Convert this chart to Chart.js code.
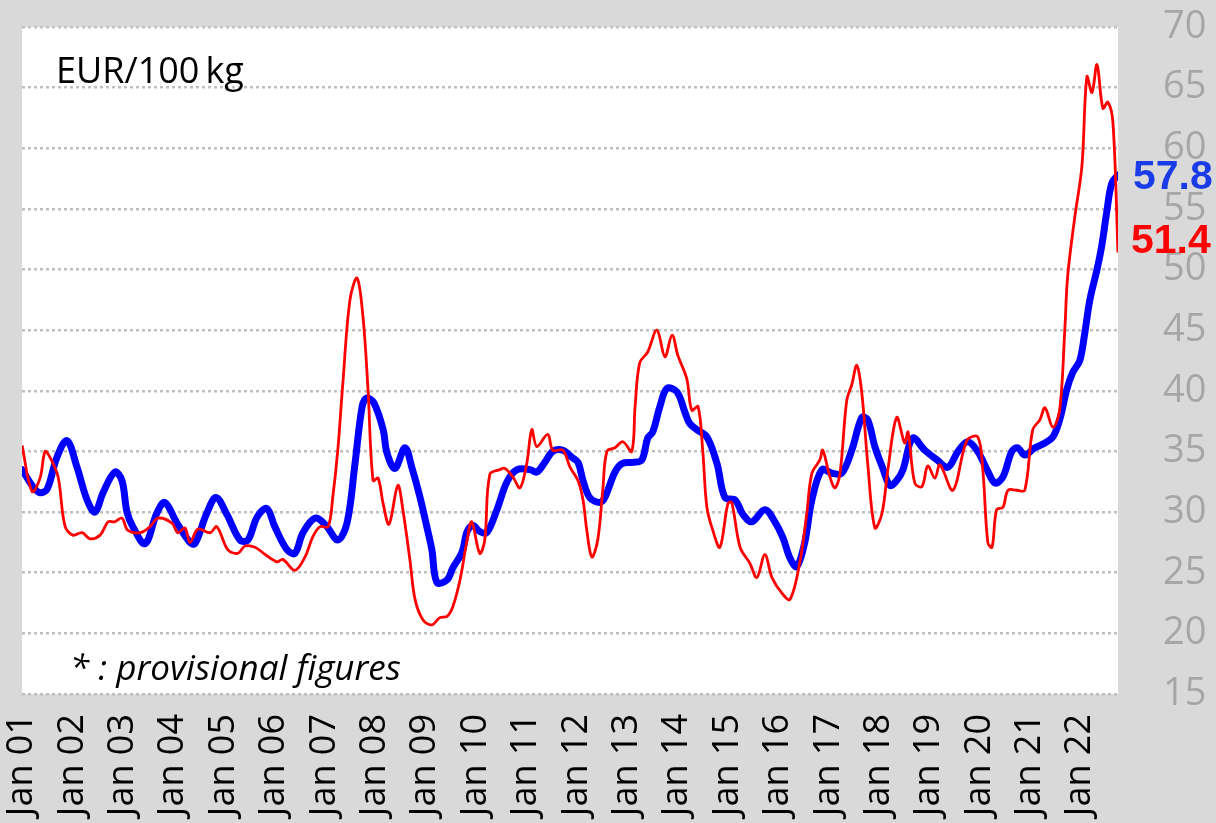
<!DOCTYPE html>
<html>
<head>
<meta charset="utf-8">
<script src="https://cdn.jsdelivr.net/npm/chart.js@4/dist/chart.umd.min.js"></script>
<style>
  html, body { margin: 0; padding: 0; background: #d9d9d9; }
  #wrap { width: 1216px; height: 823px; position: relative; }
</style>
</head>
<body>
<div id="wrap"><canvas id="c" width="1216" height="823"></canvas></div>
<script>
// Tick labels (one per January, months counted from Jan 2001)
const yearLabels = ['Jan 01','Jan 02','Jan 03','Jan 04','Jan 05','Jan 06','Jan 07','Jan 08','Jan 09','Jan 10','Jan 11',
  'Jan 12','Jan 13','Jan 14','Jan 15','Jan 16','Jan 17','Jan 18','Jan 19','Jan 20','Jan 21','Jan 22'];
const lastMonth = 261; // Oct 2022

// Blue series (thick): months since Jan 2001 and EUR/100 kg
const blueMonths = [0,2.6,4.3,6,8.3,10.7,13.1,15.5,17.4,19.3,22.1,23.8,25,26.4,29.3,32.1,34,36.9,40,41.2,44,46.2,48.8,51.9,53.8,56,58.3,60.2,63.1,65,66.9,69.8,72.4,75.2,77.4,79.3,81,82.1,83.8,86,86.9,88.8,91.2,92.9,94.8,96.4,97.6,98.8,101.2,102.6,104.8,106,107.4,109,110.7,113.1,115.5,117.9,121,122.6,124.5,126.4,128.8,131,132.4,133.6,135.2,137.6,138.8,141.2,142.9,145.5,147.6,149,150.2,151.9,153.6,156,157.9,159,160.7,163.1,165.5,167.4,169.8,171.7,173.8,176.9,179.3,181.2,182.9,184.5,186.4,188.1,190.5,192.9,195.2,197.6,200,201.4,203.1,205,206.7,208.3,209.8,212.1,215,217.9,220.5,222.9,225.2,227.6,229.8,231.7,233.6,235.7,237.1,238.8,241.2,243.6,245.5,247.1,248.8,250.2,251.9,253.1,254.3,256,257.1,258.3,259.5,261];
const blueValues = [33.5,32.1,31.6,31.9,34.5,35.9,33.7,31.0,30.0,31.6,33.3,32.6,30.0,28.8,27.4,29.9,30.8,29.1,27.5,27.4,29.9,31.2,29.8,27.7,27.7,29.6,30.3,28.8,26.9,26.6,28.3,29.5,28.9,27.7,29.1,34.0,38.7,39.4,39.0,36.8,34.9,33.6,35.3,33.6,31.2,28.8,26.9,24.2,24.4,25.4,26.7,28.4,28.9,28.4,28.3,30.2,32.5,33.5,33.5,33.3,34.1,35.0,35.1,34.5,34.1,32.6,31.2,30.8,31.2,33.3,34.0,34.1,34.3,36.1,36.6,38.7,40.2,39.9,38.2,37.3,36.8,36.2,34.0,31.2,31.0,29.8,29.2,30.2,29.2,27.9,26.2,25.5,27.5,31.0,33.5,33.2,33.2,35.1,37.8,37.6,35.4,33.6,32.2,32.6,33.5,36.1,35.1,34.3,33.7,35.0,35.8,35.0,33.5,32.4,32.9,35.0,35.3,34.7,35.3,35.7,36.2,37.6,40.1,41.5,42.5,44.8,47.5,50.0,51.9,54.7,57.1,57.8];

// Red series (thin)
const redMonths = [0,2.4,4.3,5.5,6.7,8.6,10.2,12.1,14.3,16.2,18.6,20.5,22.1,23.8,25.2,28.1,30.5,32.4,35.7,37.1,38.8,40,41.9,44.8,46.4,49,51.4,53.1,55.5,57.9,60.7,62.1,65,67.4,69.3,71,72.9,74,75.2,76.4,78.1,79.8,81.2,82.4,83.6,84.8,86,87.4,89.5,90.7,92.4,93.6,95.5,97.6,99.5,101.2,102.6,104.3,106,107.1,109,110.2,111.4,113.8,115,116.9,118.6,120.2,121.4,122.6,125.2,126.4,128.8,130.5,132.4,133.6,134.5,135.7,137.1,138.3,139.3,141.2,143.1,145.2,146,147.1,149,151.2,153.1,154.8,156.2,158.3,159.5,161,162.1,163.1,164.5,166.2,168.1,169,171,173.3,175,176.9,178.6,181,182.9,185.2,186.9,188.1,190,190.7,192.4,193.6,194.8,196.4,197.6,198.8,200,201.4,203.1,204.8,206.2,208.3,210.2,211,212.6,214.3,215.7,217.4,218.6,221.7,225,227.6,228.8,230,231,232.1,233.6,234.8,236.9,238.8,240.7,242.4,243.6,245.5,247.1,248.3,249,250.7,252.4,253.6,254.8,256,257.4,258.6,259.8,261];
const redValues = [35.5,31.7,32.8,35.0,34.5,32.9,28.9,28.1,28.3,27.8,28.1,29.2,29.2,29.5,28.5,28.3,28.8,29.5,29.1,28.3,28.7,27.5,28.6,28.3,28.8,26.9,26.6,27.2,27.1,26.5,25.9,26.1,25.2,26.3,28.0,28.8,28.8,31.2,35.1,40.6,47.5,49.3,46.1,40.1,32.6,32.8,30.7,29.0,32.2,30.2,26.0,22.8,21.1,20.7,21.3,21.4,22.2,24.4,27.7,29.2,26.6,27.7,33.1,33.5,33.6,32.9,32.0,34.0,36.8,35.4,36.4,35.1,35.1,33.7,32.6,31.0,28.5,26.3,27.7,31.8,35.0,35.3,35.8,35.0,38.7,42.3,43.2,45.0,42.8,44.6,42.9,41.0,38.4,38.7,35.1,30.4,28.5,27.1,30.7,30.8,27.1,25.8,24.6,26.5,24.6,23.3,22.8,25.8,29.9,33.2,34.3,35.1,32.9,32.0,33.2,39.2,40.5,42.1,39.8,34.0,28.7,29.9,33.5,37.8,35.7,36.6,32.4,32.1,33.8,32.8,33.9,31.8,35.9,36.2,33.5,27.5,27.1,30.2,30.4,31.8,31.8,31.8,36.8,37.6,38.6,37.0,38.4,44.8,49.4,54.3,58.5,65.9,64.6,66.9,63.3,63.8,62.1,51.4];

const yTicks = [15,20,25,30,35,40,45,50,55,60,65,70];

const toPts = (xs, ys) => xs.map((x, i) => ({x: x, y: ys[i]}));

const bgPlugin = {
  id: 'bg',
  beforeDraw(chart) {
    const {ctx, chartArea: a} = chart;
    ctx.save();
    ctx.fillStyle = '#d9d9d9';
    ctx.fillRect(0, 0, chart.width, chart.height);
    ctx.fillStyle = '#ffffff';
    ctx.fillRect(a.left, a.top, a.right - a.left, a.bottom - a.top);
    ctx.restore();
  },
  afterDraw(chart) {
    const {ctx, chartArea: a, scales} = chart;
    ctx.save();
    ctx.fillStyle = '#000000';
    ctx.textBaseline = 'alphabetic';
    ctx.textAlign = 'left';
    ctx.font = '36px "Open Sans"';
    ctx.fillText('EUR/100\u2009kg', a.left + 34, 83);
    ctx.font = 'italic 35px "Open Sans"';
    ctx.fillText('* : provisional figures', a.left + 48, 680);
    // end labels
    const yb = scales.y.getPixelForValue(blueValues[blueValues.length - 1]);
    const yr = scales.y.getPixelForValue(redValues[redValues.length - 1]);
    ctx.font = 'bold 41px "Liberation Sans"';
    ctx.textBaseline = 'middle';
    ctx.fillStyle = '#1a3ce8';
    ctx.fillText(blueValues[blueValues.length - 1].toFixed(1), a.right + 15, yb + 3);
    ctx.fillStyle = '#ff0000';
    ctx.fillText(redValues[redValues.length - 1].toFixed(1), a.right + 13, yr - 11);
    ctx.restore();
  }
};

new Chart(document.getElementById('c'), {
  type: 'line',
  data: {
    datasets: [
      { data: toPts(redMonths, redValues), borderColor: '#ff0000', borderWidth: 2.8, pointRadius: 0, tension: 0.35, fill: false },
      { data: toPts(blueMonths, blueValues), borderColor: '#0000ff', borderWidth: 7, pointRadius: 0, tension: 0.35, fill: false, borderCapStyle: 'round', borderJoinStyle: 'round' }
    ]
  },
  options: {
    responsive: false,
    animation: false,
    devicePixelRatio: 1,
    layout: { padding: { left: 22, top: 27, right: 0, bottom: 0 } },
    plugins: { legend: { display: false }, tooltip: { enabled: false } },
    scales: {
      x: {
        type: 'linear',
        min: 0,
        max: lastMonth,
        grid: { display: false, drawTicks: false },
        border: { display: false },
        afterBuildTicks: s => { s.ticks = yearLabels.map((_, i) => ({ value: i * 12 })); },
        afterFit: s => { s.height = 129; s.paddingLeft = 0; s.paddingRight = 0; },
        ticks: {
          autoSkip: false,
          minRotation: 90,
          maxRotation: 90,
          padding: 20,
          color: '#000000',
          font: { family: '"Open Sans"', size: 36 },
          callback: v => yearLabels[Math.round(v / 12)] || ''
        }
      },
      y: {
        position: 'right',
        min: 15,
        max: 70,
        afterBuildTicks: s => { s.ticks = yTicks.map(v => ({ value: v })); },
        afterFit: s => { s.width = 98; s.paddingTop = 0; s.paddingBottom = 0; },
        grid: { color: '#bfbfbf', lineWidth: 2.5, drawTicks: false },
        border: { display: false, dash: [3, 3] },
        ticks: {
          padding: 45,
          color: '#a6a6a6',
          font: { family: '"Open Sans"', size: 38 },
          callback: v => String(v)
        }
      }
    }
  },
  plugins: [bgPlugin]
});
</script>
</body>
</html>
